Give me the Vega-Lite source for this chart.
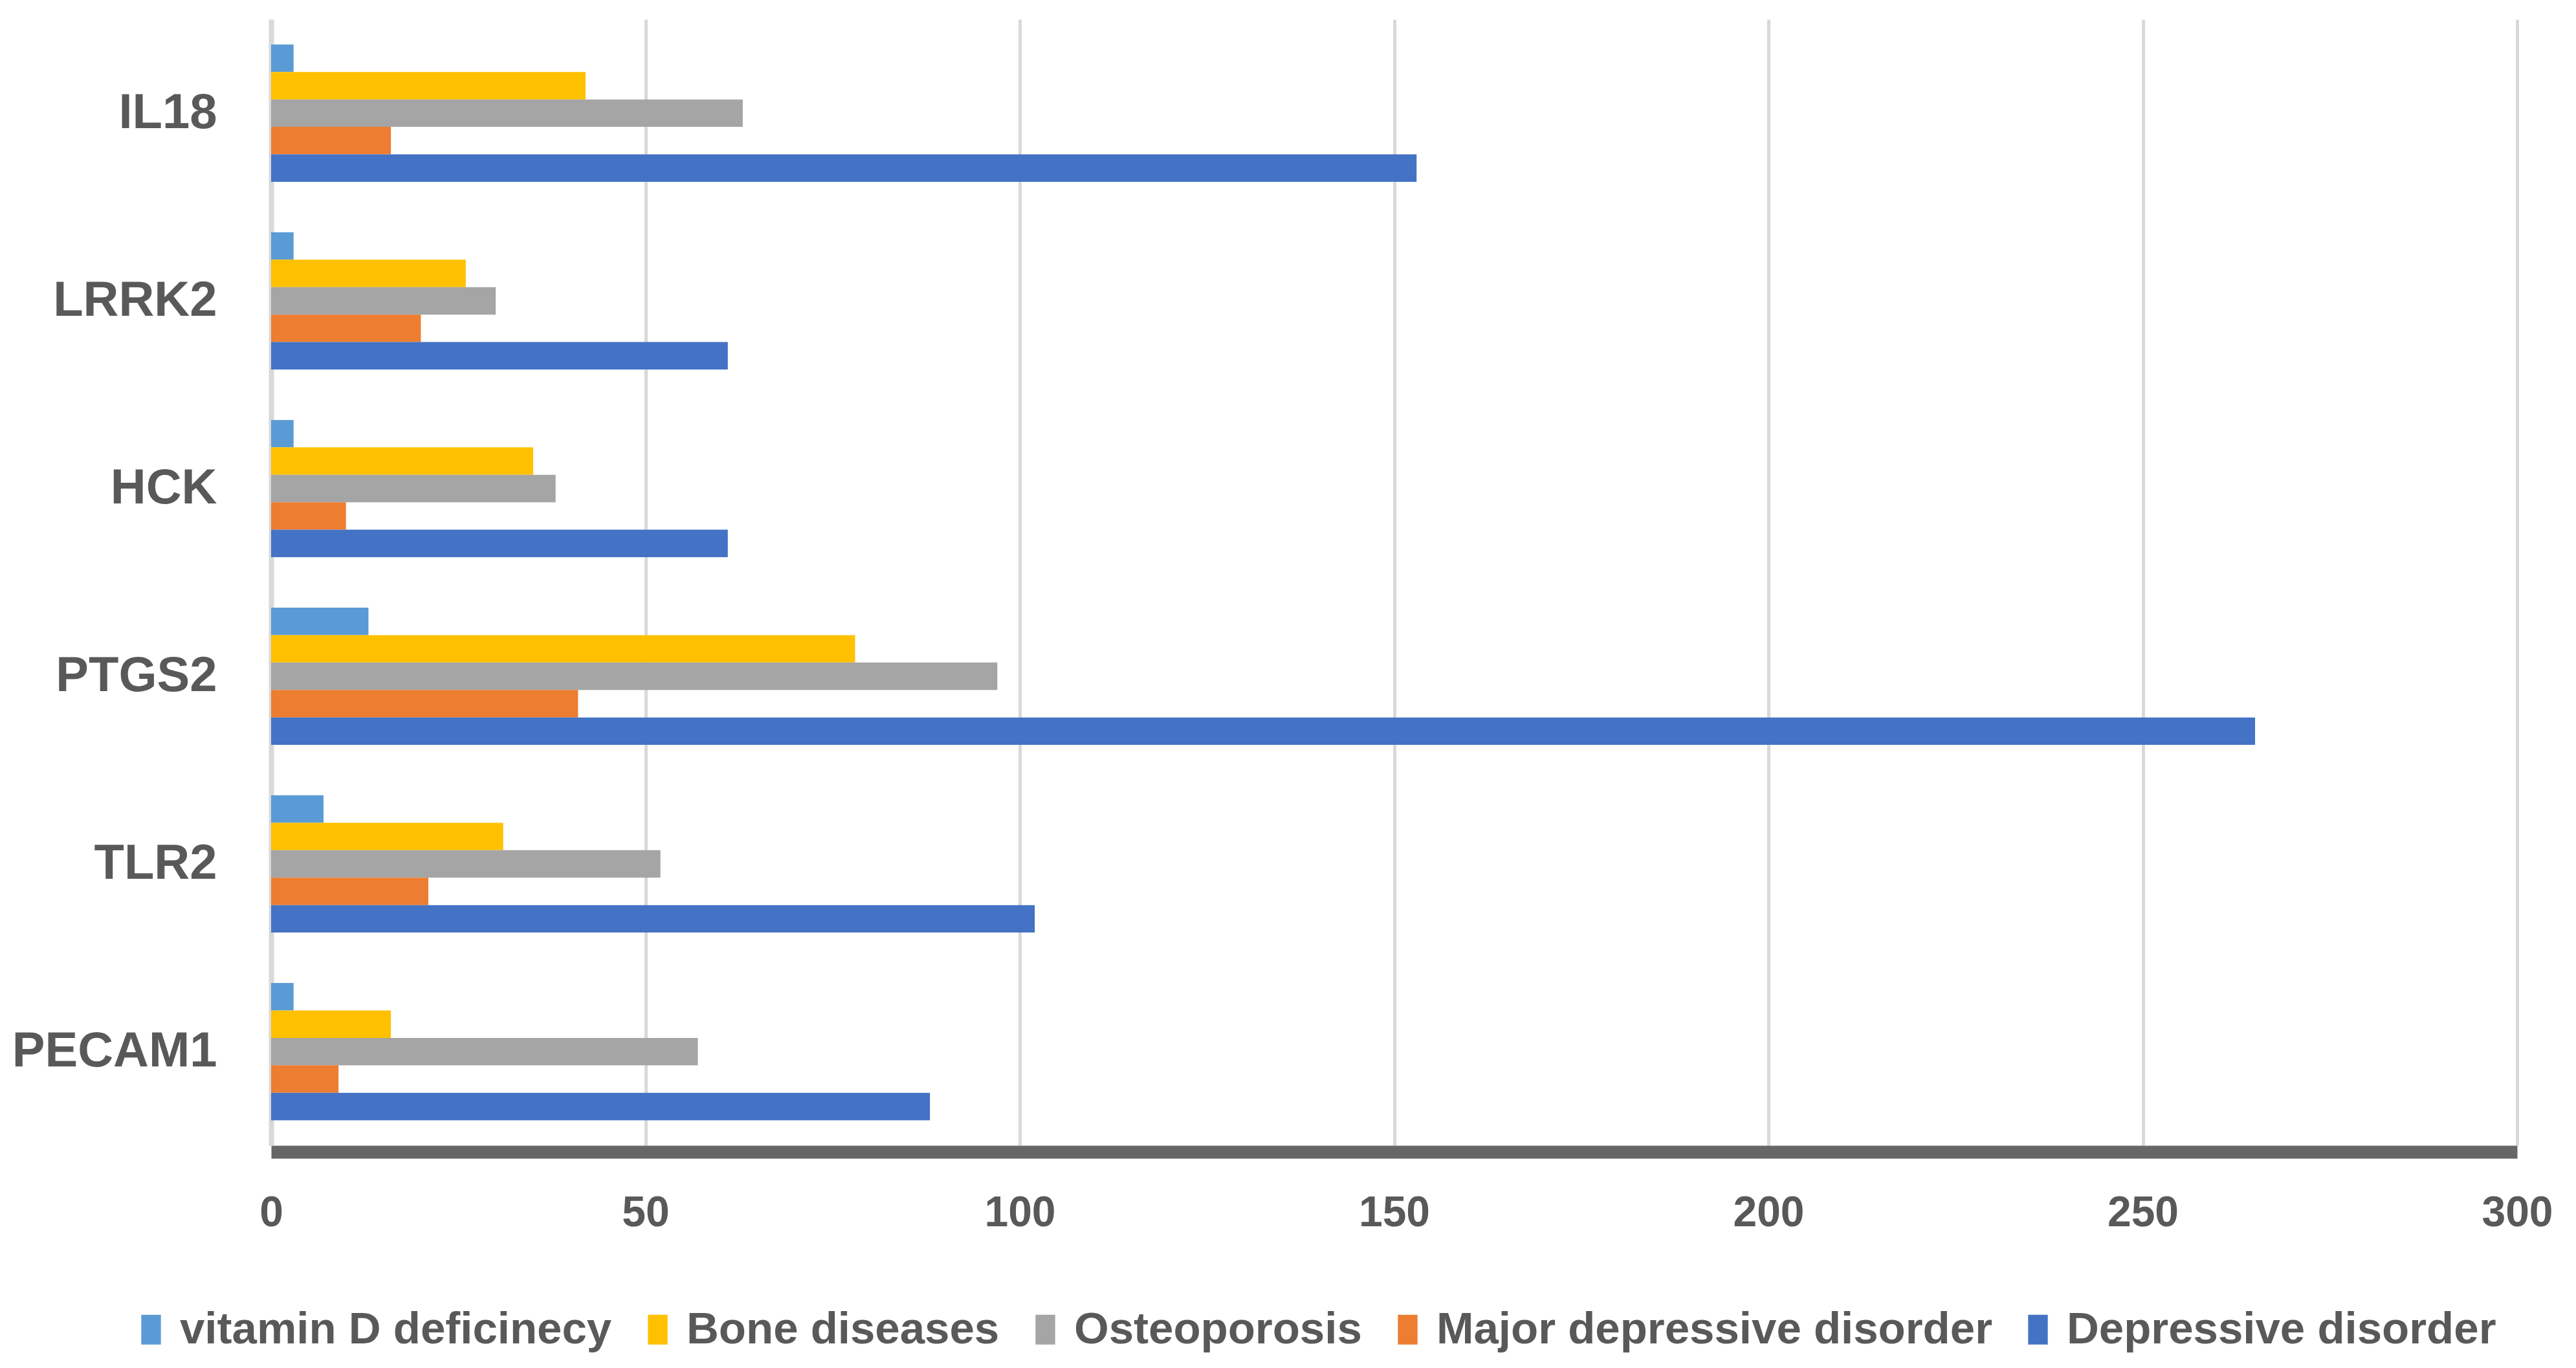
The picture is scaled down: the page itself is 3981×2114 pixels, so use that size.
{
  "$schema": "https://vega.github.io/schema/vega-lite/v6.json",
  "width": 3471,
  "height": 1740,
  "autosize": {"type": "none"},
  "padding": {"left": 419, "top": 30, "right": 91, "bottom": 344},
  "background": "white",
  "data": {
    "values": [
      {"gene": "IL18", "disease": "vitamin D deficinecy", "value": 3},
      {"gene": "IL18", "disease": "Bone diseases", "value": 42},
      {"gene": "IL18", "disease": "Osteoporosis", "value": 63},
      {"gene": "IL18", "disease": "Major depressive disorder", "value": 16},
      {"gene": "IL18", "disease": "Depressive disorder", "value": 153},
      {"gene": "LRRK2", "disease": "vitamin D deficinecy", "value": 3},
      {"gene": "LRRK2", "disease": "Bone diseases", "value": 26},
      {"gene": "LRRK2", "disease": "Osteoporosis", "value": 30},
      {"gene": "LRRK2", "disease": "Major depressive disorder", "value": 20},
      {"gene": "LRRK2", "disease": "Depressive disorder", "value": 61},
      {"gene": "HCK", "disease": "vitamin D deficinecy", "value": 3},
      {"gene": "HCK", "disease": "Bone diseases", "value": 35},
      {"gene": "HCK", "disease": "Osteoporosis", "value": 38},
      {"gene": "HCK", "disease": "Major depressive disorder", "value": 10},
      {"gene": "HCK", "disease": "Depressive disorder", "value": 61},
      {"gene": "PTGS2", "disease": "vitamin D deficinecy", "value": 13},
      {"gene": "PTGS2", "disease": "Bone diseases", "value": 78},
      {"gene": "PTGS2", "disease": "Osteoporosis", "value": 97},
      {"gene": "PTGS2", "disease": "Major depressive disorder", "value": 41},
      {"gene": "PTGS2", "disease": "Depressive disorder", "value": 265},
      {"gene": "TLR2", "disease": "vitamin D deficinecy", "value": 7},
      {"gene": "TLR2", "disease": "Bone diseases", "value": 31},
      {"gene": "TLR2", "disease": "Osteoporosis", "value": 52},
      {"gene": "TLR2", "disease": "Major depressive disorder", "value": 21},
      {"gene": "TLR2", "disease": "Depressive disorder", "value": 102},
      {"gene": "PECAM1", "disease": "vitamin D deficinecy", "value": 3},
      {"gene": "PECAM1", "disease": "Bone diseases", "value": 16},
      {"gene": "PECAM1", "disease": "Osteoporosis", "value": 57},
      {"gene": "PECAM1", "disease": "Major depressive disorder", "value": 9},
      {"gene": "PECAM1", "disease": "Depressive disorder", "value": 88}
    ]
  },
  "mark": {"type": "bar"},
  "encoding": {
    "y": {
      "field": "gene",
      "type": "nominal",
      "sort": ["IL18", "LRRK2", "HCK", "PTGS2", "TLR2", "PECAM1"],
      "scale": {"paddingInner": 0.269, "paddingOuter": 0.134},
      "axis": {
        "title": null,
        "ticks": false,
        "grid": false,
        "domain": true,
        "domainColor": "#D9D9D9",
        "domainWidth": 8,
        "labelFont": "Liberation Sans",
        "labelFontWeight": "bold",
        "labelFontSize": 76,
        "labelColor": "#595959",
        "labelPadding": 84,
        "labelLimit": 0
      }
    },
    "yOffset": {
      "field": "disease",
      "type": "nominal",
      "sort": ["vitamin D deficinecy", "Bone diseases", "Osteoporosis", "Major depressive disorder", "Depressive disorder"],
      "scale": {"paddingInner": 0, "paddingOuter": 0}
    },
    "x": {
      "field": "value",
      "type": "quantitative",
      "scale": {"domain": [0, 300], "nice": false},
      "axis": {
        "title": null,
        "values": [0, 50, 100, 150, 200, 250, 300],
        "ticks": false,
        "grid": true,
        "gridColor": "#D9D9D9",
        "gridWidth": 5,
        "domain": true,
        "domainColor": "#666666",
        "domainWidth": 20,
        "offset": 10,
        "labelFont": "Liberation Sans",
        "labelFontWeight": "bold",
        "labelFontSize": 66,
        "labelColor": "#595959",
        "labelPadding": 62,
        "labelFlush": false,
        "labelLimit": 0
      }
    },
    "color": {
      "field": "disease",
      "type": "nominal",
      "sort": ["vitamin D deficinecy", "Bone diseases", "Osteoporosis", "Major depressive disorder", "Depressive disorder"],
      "scale": {
        "domain": ["vitamin D deficinecy", "Bone diseases", "Osteoporosis", "Major depressive disorder", "Depressive disorder"],
        "range": ["#5B9BD5", "#FFC000", "#A5A5A5", "#ED7D31", "#4472C4"]
      },
      "legend": {
        "title": null,
        "orient": "none",
        "direction": "horizontal",
        "legendX": -220,
        "legendY": 1990,
        "symbolType": "M-0.66,-1H0.66V1H-0.66Z",
        "symbolSize": 2116,
        "symbolStrokeWidth": 0,
        "labelFont": "Liberation Sans",
        "labelFontWeight": "bold",
        "labelFontSize": 69,
        "labelColor": "#595959",
        "labelOffset": 10,
        "labelLimit": 0,
        "columnPadding": 36,
        "padding": 0
      }
    }
  },
  "config": {"view": {"stroke": null}}
}
